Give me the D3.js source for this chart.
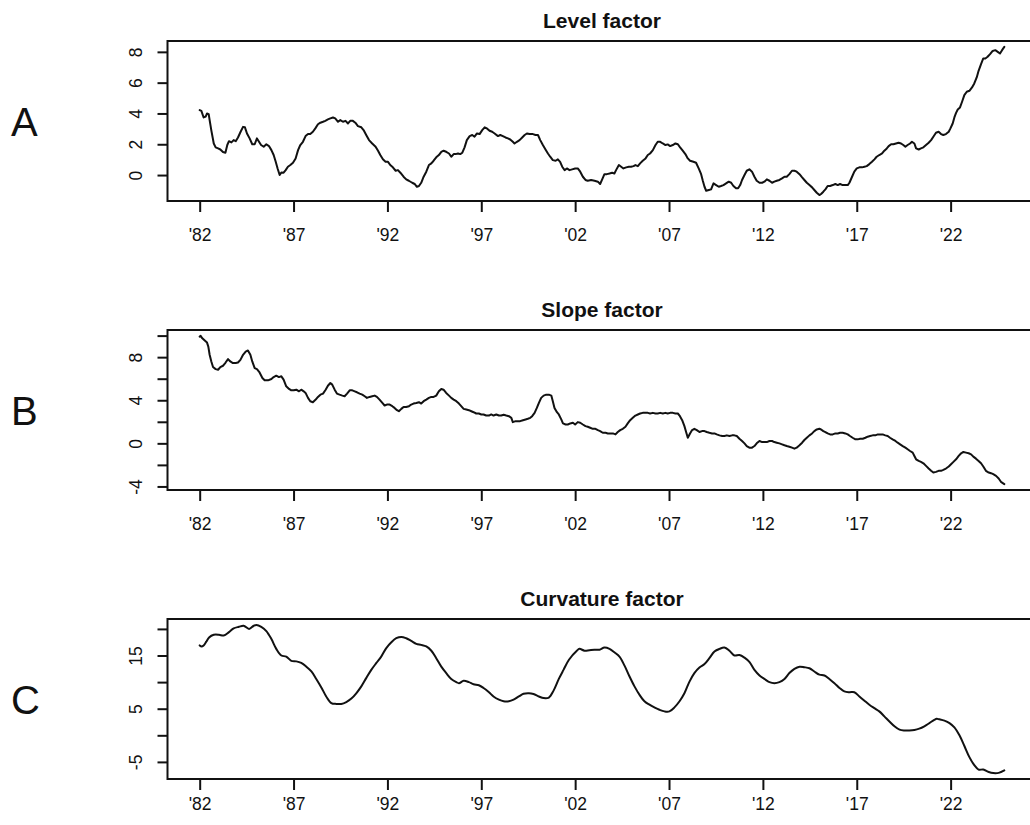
<!DOCTYPE html>
<html>
<head>
<meta charset="utf-8">
<title>Yield curve factors</title>
<script src="https://cdn.jsdelivr.net/npm/d3@7"></script>
<style>
  html, body { margin: 0; padding: 0; background: #fff; }
  svg { display: block; }
  text { font-family: "Liberation Sans", Arial, Helvetica, sans-serif; fill: #111; }
</style>
</head>
<body>
<svg id="chart" width="1030" height="825"></svg>
<script>
// ---- data: [decimal year, factor value] ----
const levelSeries = [
  [1982.00,4.22],[1982.09,4.17],[1982.21,3.74],[1982.32,3.8],[1982.39,4.0],[1982.48,3.96],[1982.53,3.57],[1982.62,2.9],
  [1982.75,2.05],[1982.85,1.8],[1982.98,1.73],[1983.10,1.66],[1983.24,1.5],[1983.37,1.45],[1983.47,1.95],[1983.56,2.2],
  [1983.69,2.12],[1983.81,2.27],[1983.92,2.2],[1984.04,2.44],[1984.18,2.81],[1984.31,3.13],[1984.41,3.1],[1984.52,2.7],
  [1984.66,2.38],[1984.80,2.0],[1984.93,2.0],[1985.05,2.38],[1985.16,2.16],[1985.27,1.95],[1985.41,1.84],[1985.55,2.0],
  [1985.69,1.88],[1985.82,1.62],[1985.94,1.3],[1986.05,0.86],[1986.15,0.43],[1986.26,0.0],[1986.35,0.17],[1986.47,0.15],
  [1986.58,0.32],[1986.70,0.54],[1986.83,0.65],[1986.97,0.8],[1987.11,1.08],[1987.24,1.62],[1987.36,1.95],[1987.50,2.16],
  [1987.64,2.53],[1987.77,2.66],[1987.89,2.66],[1988.03,2.81],[1988.16,3.03],[1988.30,3.3],[1988.43,3.4],[1988.57,3.46],
  [1988.69,3.52],[1988.83,3.61],[1988.96,3.68],[1989.10,3.74],[1989.22,3.68],[1989.37,3.46],[1989.49,3.57],[1989.63,3.46],
  [1989.77,3.52],[1989.90,3.35],[1990.02,3.52],[1990.16,3.52],[1990.29,3.4],[1990.43,3.18],[1990.61,3.1],[1990.73,2.92],
  [1990.87,2.6],[1991.02,2.27],[1991.19,2.05],[1991.37,1.84],[1991.50,1.58],[1991.62,1.3],[1991.76,1.02],[1991.90,0.86],
  [1992.03,0.86],[1992.15,0.65],[1992.29,0.5],[1992.44,0.28],[1992.56,0.32],[1992.69,0.15],[1992.86,-0.11],[1993.00,-0.28],
  [1993.14,-0.37],[1993.32,-0.5],[1993.45,-0.58],[1993.57,-0.76],[1993.68,-0.71],[1993.80,-0.5],[1993.93,-0.11],[1994.07,0.22],
  [1994.21,0.65],[1994.34,0.76],[1994.46,0.93],[1994.60,1.15],[1994.74,1.3],[1994.87,1.51],[1994.99,1.58],[1995.13,1.51],
  [1995.28,1.4],[1995.40,1.19],[1995.53,1.36],[1995.63,1.36],[1995.76,1.4],[1995.88,1.36],[1995.99,1.45],[1996.11,1.8],
  [1996.23,2.27],[1996.38,2.53],[1996.52,2.6],[1996.64,2.49],[1996.77,2.7],[1996.91,2.66],[1997.05,2.92],[1997.18,3.1],
  [1997.30,3.03],[1997.44,2.88],[1997.58,2.81],[1997.71,2.7],[1997.89,2.53],[1998.01,2.6],[1998.15,2.53],[1998.29,2.44],
  [1998.42,2.38],[1998.54,2.31],[1998.68,2.16],[1998.77,2.05],[1998.90,2.16],[1999.04,2.27],[1999.18,2.44],[1999.31,2.6],
  [1999.43,2.7],[1999.57,2.66],[1999.75,2.66],[1999.89,2.6],[2000.02,2.6],[2000.14,2.27],[2000.28,1.95],[2000.42,1.66],
  [2000.55,1.4],[2000.67,1.19],[2000.81,0.97],[2000.96,0.93],[2001.08,1.02],[2001.20,0.86],[2001.31,0.54],[2001.44,0.32],
  [2001.56,0.43],[2001.70,0.32],[2001.84,0.37],
  [2002.00,0.43],[2002.14,0.43],[2002.27,0.22],[2002.41,-0.11],[2002.55,-0.32],[2002.67,-0.37],[2002.85,-0.32],[2003.03,-0.37],
  [2003.21,-0.43],[2003.33,-0.58],[2003.44,-0.28],[2003.56,0.06],[2003.69,0.06],[2003.83,0.1],[2003.97,0.15],[2004.09,0.1],
  [2004.18,0.32],[2004.33,0.65],[2004.45,0.54],[2004.57,0.43],[2004.72,0.5],[2004.86,0.54],[2004.98,0.54],[2005.11,0.58],
  [2005.21,0.65],[2005.34,0.58],[2005.46,0.76],[2005.60,0.93],[2005.75,1.08],[2005.87,1.3],[2005.99,1.4],[2006.14,1.62],
  [2006.28,1.95],[2006.40,2.16],[2006.53,2.16],[2006.67,2.05],[2006.81,1.95],[2006.93,1.99],[2007.06,1.88],[2007.20,1.95],
  [2007.34,2.05],[2007.47,2.0],[2007.59,1.8],[2007.73,1.58],[2007.87,1.36],[2008.00,1.08],[2008.12,0.93],[2008.30,0.86],
  [2008.44,0.8],[2008.58,0.43],[2008.71,0.06],[2008.80,-0.37],[2008.89,-0.76],[2008.98,-1.02],[2009.12,-0.97],[2009.24,-0.93],
  [2009.37,-0.54],[2009.51,-0.65],[2009.65,-0.76],[2009.77,-0.71],[2009.90,-0.65],[2010.04,-0.54],[2010.18,-0.43],[2010.31,-0.5],
  [2010.43,-0.71],[2010.57,-0.86],[2010.68,-0.86],[2010.79,-0.65],[2010.89,-0.32],[2011.02,0.0],[2011.14,0.28],[2011.28,0.37],
  [2011.42,0.22],[2011.55,-0.11],[2011.67,-0.37],[2011.82,-0.5],[2011.96,-0.5],[2012.08,-0.43],[2012.21,-0.28],[2012.35,-0.37],
  [2012.49,-0.5],[2012.61,-0.43],[2012.74,-0.37],[2012.88,-0.32],[2013.02,-0.22],[2013.15,-0.11],[2013.27,-0.11],[2013.41,0.06],
  [2013.55,0.28],[2013.68,0.28],[2013.80,0.22],[2013.95,0.06],[2014.09,-0.15],[2014.21,-0.32],[2014.34,-0.5],[2014.48,-0.65],
  [2014.62,-0.8],[2014.74,-0.97],[2014.87,-1.15],[2015.01,-1.3],[2015.10,-1.23],[2015.22,-1.08],[2015.33,-0.93],[2015.45,-0.71],
  [2015.58,-0.71],[2015.72,-0.65],[2015.86,-0.58],[2015.99,-0.65],[2016.11,-0.58],[2016.25,-0.65],[2016.39,-0.65],[2016.52,-0.65],
  [2016.61,-0.5],[2016.75,-0.11],[2016.87,0.22],[2017.00,0.43],[2017.14,0.5],[2017.28,0.5],[2017.41,0.54],[2017.53,0.58],
  [2017.67,0.71],[2017.81,0.86],[2017.94,1.02],[2018.06,1.19],[2018.20,1.3],[2018.35,1.4],[2018.47,1.58],[2018.60,1.73],
  [2018.70,1.88],[2018.83,2.0],[2018.95,2.0],[2019.09,2.05],[2019.23,2.1],[2019.36,2.05],[2019.48,1.95],[2019.59,1.84],
  [2019.71,1.95],[2019.84,2.05],[2019.94,2.16],[2020.07,2.05],[2020.16,1.73],[2020.30,1.66],[2020.42,1.73],[2020.55,1.8],
  [2020.69,1.95],[2020.83,2.1],[2020.96,2.27],[2021.08,2.49],[2021.22,2.75],[2021.36,2.81],[2021.49,2.66],[2021.61,2.6],
  [2021.75,2.66],[2021.90,2.81],[2021.99,3.03],[2022.11,3.35],[2022.20,3.74],[2022.29,4.04],[2022.38,4.26],[2022.50,4.39],
  [2022.61,4.76],[2022.73,5.19],[2022.86,5.41],[2023.00,5.47],[2023.14,5.69],[2023.26,5.95],[2023.39,6.34],[2023.49,6.77],
  [2023.62,7.2],[2023.74,7.57],[2023.85,7.57],[2023.97,7.68],[2024.10,7.85],[2024.24,8.06],[2024.38,8.11],[2024.51,8.0],
  [2024.63,7.89],[2024.74,8.11],[2024.86,8.32]
];

const slopeSeries = [
  [1982.00,9.91],[1982.05,9.97],[1982.14,9.75],[1982.27,9.54],[1982.39,9.35],[1982.46,8.98],[1982.53,8.22],[1982.62,7.6],
  [1982.71,7.08],[1982.85,6.89],[1982.98,6.83],[1983.10,7.08],[1983.24,7.2],[1983.38,7.5],[1983.51,7.82],[1983.63,7.6],
  [1983.77,7.45],[1983.92,7.45],[1984.04,7.5],[1984.17,7.75],[1984.31,8.22],[1984.45,8.52],[1984.57,8.62],[1984.70,8.22],
  [1984.80,7.6],[1984.93,6.98],[1985.05,6.89],[1985.19,6.58],[1985.34,6.06],[1985.46,5.85],[1985.64,5.85],[1985.82,5.97],
  [1985.94,6.15],[1986.08,6.28],[1986.22,6.15],[1986.35,6.22],[1986.47,5.91],[1986.61,5.29],[1986.76,5.05],[1986.88,4.92],
  [1987.01,4.92],[1987.15,4.98],[1987.29,4.83],[1987.41,4.98],[1987.54,4.83],[1987.64,4.68],[1987.77,4.22],[1987.89,3.91],
  [1988.03,3.82],[1988.18,4.06],[1988.30,4.31],[1988.43,4.52],[1988.57,4.62],[1988.71,4.98],[1988.83,5.35],[1988.96,5.6],
  [1989.06,5.45],[1989.19,4.98],[1989.31,4.62],[1989.45,4.52],[1989.60,4.43],[1989.72,4.37],[1989.85,4.62],[1989.99,4.92],
  [1990.13,4.92],[1990.26,4.83],[1990.38,4.74],[1990.52,4.62],[1990.66,4.52],[1990.79,4.37],[1990.91,4.22],[1991.05,4.31],
  [1991.19,4.37],[1991.32,4.43],[1991.44,4.31],[1991.58,4.06],[1991.73,3.75],[1991.85,3.51],[1991.97,3.6],[1992.12,3.6],
  [1992.26,3.45],[1992.38,3.29],[1992.51,3.08],[1992.61,2.98],[1992.74,3.2],[1992.86,3.38],[1993.00,3.38],[1993.15,3.45],
  [1993.27,3.6],[1993.39,3.69],[1993.54,3.75],[1993.68,3.82],[1993.80,3.69],[1993.93,3.91],[1994.07,4.06],[1994.21,4.22],
  [1994.34,4.31],[1994.46,4.31],[1994.60,4.43],[1994.74,4.83],[1994.87,5.05],[1994.99,4.98],[1995.13,4.68],[1995.28,4.43],
  [1995.40,4.22],[1995.53,4.06],[1995.67,3.91],[1995.81,3.69],[1995.93,3.45],[1996.06,3.2],[1996.20,3.14],[1996.34,3.08],
  [1996.47,2.98],[1996.59,2.89],[1996.73,2.77],[1996.87,2.77],[1997.00,2.68],[1997.12,2.68],[1997.26,2.58],[1997.41,2.58],
  [1997.53,2.68],[1997.65,2.58],[1997.80,2.68],[1997.94,2.58],[1998.06,2.58],[1998.19,2.65],[1998.33,2.58],[1998.47,2.52],
  [1998.60,2.37],[1998.68,1.97],[1998.83,2.06],[1998.95,2.06],[1999.07,2.06],[1999.22,2.15],[1999.36,2.22],[1999.48,2.28],
  [1999.61,2.37],[1999.71,2.52],[1999.84,2.83],[1999.96,3.29],[2000.07,3.75],[2000.19,4.22],[2000.32,4.43],[2000.46,4.52],
  [2000.60,4.52],[2000.73,4.43],[2000.81,3.91],[2000.90,3.29],[2001.03,2.89],[2001.13,2.68],[2001.26,2.22],[2001.35,1.85],
  [2001.49,1.75],[2001.61,1.75],[2001.74,1.85],[2001.88,1.91],
  [2002.00,1.75],[2002.14,1.97],[2002.27,1.91],[2002.41,1.75],[2002.55,1.6],[2002.67,1.54],[2002.80,1.45],[2002.94,1.35],
  [2003.08,1.35],[2003.21,1.23],[2003.33,1.14],[2003.47,0.98],[2003.62,0.98],[2003.74,0.92],[2003.86,0.92],[2004.01,0.92],
  [2004.15,0.83],[2004.27,1.05],[2004.40,1.23],[2004.54,1.35],[2004.68,1.54],[2004.80,1.85],[2004.93,2.15],[2005.07,2.37],
  [2005.21,2.58],[2005.34,2.68],[2005.46,2.77],[2005.60,2.83],[2005.75,2.83],[2005.87,2.83],[2005.99,2.77],[2006.14,2.83],
  [2006.28,2.77],[2006.40,2.77],[2006.53,2.83],[2006.67,2.77],[2006.81,2.83],[2006.93,2.77],[2007.06,2.83],[2007.20,2.83],
  [2007.34,2.77],[2007.47,2.77],[2007.56,2.58],[2007.70,2.15],[2007.82,1.6],[2007.91,1.05],[2008.00,0.52],[2008.12,0.92],
  [2008.23,1.23],[2008.35,1.35],[2008.48,1.23],[2008.62,1.05],[2008.76,1.14],[2008.89,1.14],[2009.01,1.05],[2009.15,0.98],
  [2009.29,0.92],[2009.42,0.92],[2009.54,0.83],[2009.69,0.74],[2009.83,0.68],[2009.95,0.68],[2010.08,0.74],[2010.22,0.68],
  [2010.36,0.74],[2010.48,0.74],[2010.61,0.68],[2010.75,0.43],[2010.89,0.22],[2011.02,0.0],[2011.14,-0.25],[2011.28,-0.4],
  [2011.42,-0.4],[2011.55,-0.25],[2011.67,0.0],[2011.82,0.22],[2011.96,0.12],[2012.08,0.12],[2012.21,0.12],[2012.35,0.22],
  [2012.49,0.22],[2012.61,0.12],[2012.74,0.06],[2012.88,0.0],[2013.02,-0.09],[2013.15,-0.18],[2013.27,-0.25],[2013.41,-0.31],
  [2013.55,-0.4],[2013.68,-0.49],[2013.80,-0.4],[2013.95,-0.18],[2014.09,0.06],[2014.21,0.31],[2014.34,0.52],[2014.48,0.74],
  [2014.62,0.92],[2014.74,1.14],[2014.87,1.29],[2015.01,1.35],[2015.10,1.29],[2015.22,1.14],[2015.33,1.05],[2015.45,0.92],
  [2015.58,0.83],[2015.72,0.83],[2015.86,0.92],[2015.99,0.92],[2016.11,0.98],[2016.25,0.98],[2016.39,0.92],[2016.52,0.83],
  [2016.64,0.68],[2016.78,0.52],[2016.93,0.37],[2017.05,0.37],[2017.18,0.43],[2017.32,0.43],[2017.46,0.52],[2017.58,0.62],
  [2017.71,0.68],[2017.85,0.74],[2017.99,0.74],[2018.12,0.83],[2018.24,0.83],[2018.38,0.83],[2018.52,0.74],[2018.65,0.68],
  [2018.77,0.52],[2018.91,0.37],[2019.06,0.22],[2019.18,0.06],[2019.31,-0.09],[2019.45,-0.25],[2019.59,-0.4],[2019.71,-0.55],
  [2019.84,-0.71],[2019.98,-0.86],[2020.07,-1.17],[2020.16,-1.48],[2020.30,-1.63],[2020.42,-1.72],[2020.55,-1.85],[2020.69,-2.09],
  [2020.83,-2.34],[2020.96,-2.55],[2021.08,-2.71],[2021.22,-2.65],[2021.36,-2.55],[2021.49,-2.55],[2021.61,-2.46],[2021.75,-2.34],
  [2021.90,-2.15],[2022.02,-1.94],[2022.15,-1.72],[2022.29,-1.48],[2022.43,-1.17],[2022.56,-0.92],[2022.68,-0.8],[2022.82,-0.86],
  [2022.96,-0.92],[2023.09,-1.02],[2023.21,-1.23],[2023.35,-1.42],[2023.49,-1.63],[2023.62,-1.85],[2023.74,-2.15],[2023.88,-2.55],
  [2024.03,-2.71],[2024.15,-2.77],[2024.27,-2.86],[2024.42,-3.02],[2024.56,-3.26],[2024.68,-3.57],[2024.86,-3.78]
];

const curvatureSeries = [
  [1982.00,16.9],[1982.10,16.7],[1982.21,16.9],[1982.35,17.6],[1982.50,18.4],[1982.75,18.9],[1983.03,18.9],[1983.28,18.75],
  [1983.56,19.4],[1983.81,20.1],[1984.09,20.4],[1984.34,20.6],[1984.63,20.0],[1984.88,20.6],[1985.02,20.75],[1985.28,20.4],
  [1985.55,19.6],[1985.82,18.1],[1986.08,16.25],[1986.35,15.0],[1986.61,14.8],[1986.88,14.0],[1987.15,13.9],[1987.41,13.6],
  [1987.68,12.9],[1987.95,12.0],[1988.21,10.6],[1988.48,9.0],[1988.74,7.3],[1989.01,6.06],[1989.28,5.9],[1989.54,5.9],
  [1989.81,6.25],[1990.08,6.9],[1990.34,7.9],[1990.61,9.2],[1990.87,10.75],[1991.14,12.3],[1991.41,13.6],[1991.67,14.8],
  [1991.94,16.4],[1992.21,17.5],[1992.47,18.25],[1992.74,18.5],[1993.00,18.25],[1993.27,17.75],[1993.54,17.2],[1993.80,17.0],
  [1994.07,16.7],[1994.34,15.9],[1994.60,14.5],[1994.87,12.9],[1995.13,11.7],[1995.40,10.6],[1995.67,10.0],[1995.81,9.8],
  [1996.06,10.25],[1996.34,10.0],[1996.59,9.6],[1996.87,9.4],[1997.12,8.9],[1997.41,8.1],[1997.65,7.3],[1997.94,6.7],
  [1998.19,6.4],[1998.47,6.4],[1998.72,6.7],[1999.00,7.3],[1999.25,7.8],[1999.54,7.9],[1999.78,7.75],[2000.07,7.3],
  [2000.32,7.0],[2000.60,7.1],[2000.85,8.4],[2001.13,10.6],[2001.38,12.3],[2001.67,14.2],[2002.09,15.9],[2002.23,16.25],
  [2002.50,15.9],[2002.76,16.0],[2003.03,16.1],[2003.30,16.1],[2003.56,16.5],[2003.83,16.25],[2004.09,15.6],[2004.36,14.8],
  [2004.63,13.1],[2004.89,11.1],[2005.16,9.2],[2005.43,7.6],[2005.69,6.4],[2005.96,5.75],[2006.22,5.25],[2006.49,4.8],
  [2006.76,4.5],[2007.02,4.5],[2007.29,5.25],[2007.56,6.4],[2007.82,7.9],[2008.09,10.1],[2008.35,11.7],[2008.62,12.75],
  [2008.89,13.4],[2009.15,14.5],[2009.42,15.75],[2009.69,16.25],[2009.95,16.5],[2010.22,15.9],[2010.48,15.0],[2010.75,15.1],
  [2011.02,14.6],[2011.29,13.75],[2011.55,12.3],[2011.82,11.25],[2012.08,10.6],[2012.35,10.0],[2012.61,9.8],[2012.88,10.0],
  [2013.15,10.6],[2013.41,11.7],[2013.68,12.5],[2013.95,12.9],[2014.21,12.8],[2014.48,12.6],[2014.74,12.0],[2015.01,11.4],
  [2015.28,11.25],[2015.54,10.6],[2015.81,9.8],[2016.08,8.9],[2016.34,8.25],[2016.61,8.1],[2016.87,8.1],[2017.14,7.3],
  [2017.41,6.5],[2017.67,5.75],[2017.94,5.1],[2018.20,4.5],[2018.47,3.56],[2018.74,2.6],[2019.01,1.7],[2019.28,1.06],
  [2019.54,0.9],[2019.80,0.9],[2020.07,1.0],[2020.33,1.25],[2020.60,1.7],[2020.87,2.3],[2021.13,2.9],[2021.26,3.1],
  [2021.40,3.0],[2021.67,2.75],[2021.94,2.3],[2022.20,1.5],[2022.47,0.0],[2022.74,-2.06],[2023.00,-4.1],[2023.26,-5.6],
  [2023.49,-6.44],[2023.74,-6.44],[2024.03,-6.9],[2024.27,-7.1],[2024.56,-7.06],[2024.86,-6.6]
];

// ---- axis ticks and labels ----
const yearTicks = [1982, 1987, 1992, 1997, 2002, 2007, 2012, 2017, 2022];
const levelTicks = [0, 2, 4, 6, 8];
const levelTickLabels = [0, 2, 4, 6, 8];
const slopeTicks = [-4, -2, 0, 2, 4, 6, 8, 10];
const slopeTickLabels = [-4, 0, 4, 8];
const curvatureTicks = [-5, 0, 5, 10, 15, 20];
const curvatureTickLabels = [-5, 5, 15];
const panelTitles = ["Level factor", "Slope factor", "Curvature factor"];
const panelLetters = ["A", "B", "C"];

// ---- layout ----
const svg = d3.select("#chart");
svg.append("rect").attr("width", 1030).attr("height", 825).attr("fill", "#fff");

const plotLeft = 167.5, plotRight = 1036.5, plotHeight = 160;
const panels = [
  { series: levelSeries, ticks: levelTicks, labels: levelTickLabels, top: 41, labelGap: 40 },
  { series: slopeSeries, ticks: slopeTicks, labels: slopeTickLabels, top: 330, labelGap: 40 },
  { series: curvatureSeries, ticks: curvatureTicks, labels: curvatureTickLabels, top: 619, labelGap: 31 }
];

// pad a data extent by 4% on each side
function padded(ext) {
  const d = (ext[1] - ext[0]) * 0.04;
  return [ext[0] - d, ext[1] + d];
}

const allYears = panels.flatMap(p => p.series.map(d => d[0]));
const x = d3.scaleLinear().domain(padded(d3.extent(allYears))).range([plotLeft, plotRight]);

const tickFont = 17.5;

panels.forEach((p, i) => {
  const bottom = p.top + plotHeight;
  const y = d3.scaleLinear()
    .domain(padded(d3.extent(p.series, d => d[1])))
    .range([bottom, p.top]);

  const g = svg.append("g");

  // x axis below the box
  const xAxis = d3.axisBottom(x)
    .tickValues(yearTicks)
    .tickSize(11)
    .tickFormat(v => "'" + String(v).slice(2));
  const gx = g.append("g").attr("transform", `translate(0,${bottom})`).call(xAxis);
  gx.select(".domain").remove();
  gx.selectAll(".tick line").attr("stroke", "#111").attr("stroke-width", 2);
  gx.selectAll(".tick text")
    .attr("y", p.labelGap)
    .attr("dy", null)
    .attr("fill", "#111")
    .style("font-size", tickFont + "px")
    .style("font-family", '"Liberation Sans", Arial, sans-serif');

  // y axis on the left with labels turned upright along the axis
  const yAxis = d3.axisLeft(y)
    .tickValues(p.ticks)
    .tickSize(10)
    .tickFormat(v => p.labels.includes(v) ? String(v) : "");
  const gy = g.append("g").attr("transform", `translate(${plotLeft},0)`).call(yAxis);
  gy.select(".domain").remove();
  gy.selectAll(".tick line").attr("stroke", "#111").attr("stroke-width", 2);
  gy.selectAll(".tick text")
    .attr("x", null)
    .attr("dy", null)
    .attr("text-anchor", "middle")
    .attr("transform", "translate(-25.5,0) rotate(-90)")
    .attr("fill", "#111")
    .style("font-size", tickFont + "px")
    .style("font-family", '"Liberation Sans", Arial, sans-serif');

  // factor line
  const line = d3.line()
    .x(d => x(d[0]))
    .y(d => y(d[1]))
    .curve(i === 2 ? d3.curveCatmullRom.alpha(0.5) : d3.curveLinear);
  g.append("path")
    .datum(p.series)
    .attr("d", line)
    .attr("fill", "none")
    .attr("stroke", "#111")
    .attr("stroke-width", 2)
    .attr("stroke-linejoin", "round")
    .attr("stroke-linecap", "round");

  // plot box
  g.append("rect")
    .attr("x", plotLeft).attr("y", p.top)
    .attr("width", plotRight - plotLeft).attr("height", plotHeight)
    .attr("fill", "none").attr("stroke", "#111").attr("stroke-width", 2);

  // title
  g.append("text")
    .attr("x", (plotLeft + plotRight) / 2)
    .attr("y", p.top - 13.5)
    .attr("text-anchor", "middle")
    .style("font-size", "21px")
    .style("font-weight", "bold")
    .text(panelTitles[i]);

  // panel letter
  g.append("text")
    .attr("x", 11)
    .attr("y", p.top + 94.7)
    .style("font-size", "40px")
    .text(panelLetters[i]);
});
</script>
</body>
</html>
